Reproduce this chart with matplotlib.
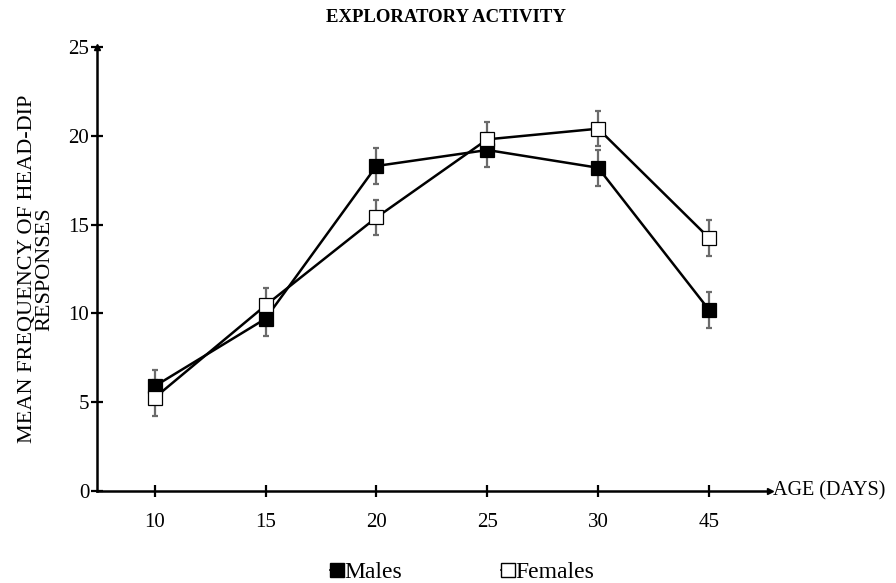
import matplotlib
matplotlib.use("Agg")
import matplotlib.pyplot as plt
from matplotlib.lines import Line2D

plt.rcParams['font.family'] = ['Liberation Serif', 'DejaVu Serif']

ages = ["10", "15", "20", "25", "30", "45"]
males = [5.9, 9.7, 18.3, 19.2, 18.2, 10.2]
males_err = [0.9, 1.0, 1.0, 0.95, 1.0, 1.0]
females = [5.25, 10.45, 15.4, 19.8, 20.4, 14.25]
females_err = [1.0, 1.0, 1.0, 0.95, 0.97, 1.0]
yticks = [0, 5, 10, 15, 20, 25]

fig = plt.figure(figsize=(8.96, 5.83), dpi=100)
ax = fig.add_axes([97/896, 1-491/583, (770-97)/896, (491-47)/583])

x = list(range(len(ages)))
for vals, errs, face in [(males, males_err, 'black'), (females, females_err, 'white')]:
    ax.errorbar(x, vals, yerr=errs, fmt='none', ecolor='#6b6b6b', elinewidth=1.6,
                capsize=2, capthick=1.6, zorder=2)
    ax.plot(x, vals, color='black', lw=1.8, marker='s', markersize=10,
            markerfacecolor=face, markeredgecolor='black', markeredgewidth=0.9, zorder=3)

ax.set_xlim(-0.52, 5.55)
ax.set_ylim(0, 25)
ax.set_xticks(x)
ax.set_xticklabels(ages)
ax.set_yticks(yticks)
for s in ['top', 'right']:
    ax.spines[s].set_visible(False)
for s in ['left', 'bottom']:
    ax.spines[s].set_linewidth(1.8)
ax.tick_params(axis='both', direction='inout', length=9, width=1.6, labelsize=15)
ax.tick_params(axis='x', pad=11)
ax.tick_params(axis='y', pad=1)

# axis arrows
ax.plot(1, 0, marker='>', color='black', markersize=5, transform=ax.transAxes, clip_on=False)
ax.plot(0, 1, marker='^', color='black', markersize=5, transform=ax.transAxes, clip_on=False)

ax.text(1.005, 0, "AGE (DAYS)", transform=ax.transAxes, ha='left', va='center', fontsize=14.5)
ax.set_ylabel("MEAN FREQUENCY OF HEAD-DIP\nRESPONSES", fontsize=16, labelpad=10, linespacing=0.88)

fig.text(446/896, 1-18/583, "EXPLORATORY ACTIVITY", ha='center', va='center', fontsize=13.5, fontweight='bold')

handles = [
    Line2D([], [], color='black', lw=1.2, marker='s', markersize=10, markerfacecolor='black', markeredgecolor='black'),
    Line2D([], [], color='black', lw=1.2, marker='s', markersize=10, markerfacecolor='white', markeredgecolor='black'),
]
fig.legend(handles, ["Males", "Females"], loc='center', bbox_to_anchor=(462/896, 1-572/583), ncol=2,
           frameon=False, fontsize=17, handlelength=0.6, handletextpad=0.0, columnspacing=4.2)

fig.savefig("out.png", dpi=100)
